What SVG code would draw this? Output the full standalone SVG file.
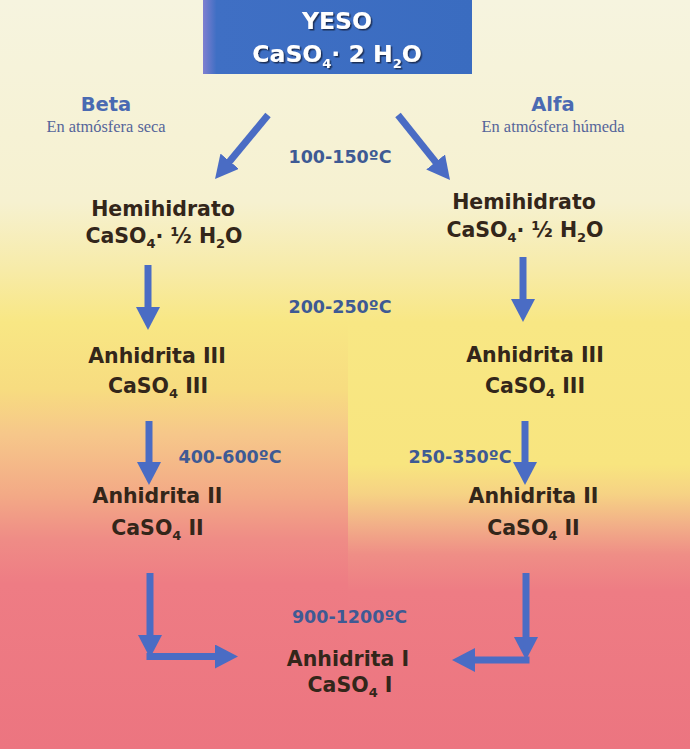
<svg xmlns="http://www.w3.org/2000/svg" width="690" height="749" viewBox="0 0 690 749">
<defs>
<linearGradient id="bgL" x1="0" y1="0" x2="0" y2="749" gradientUnits="userSpaceOnUse">
<stop offset="0" stop-color="#f6f4df"/>
<stop offset="0.27" stop-color="#f6f1d0"/>
<stop offset="0.36" stop-color="#f7eba8"/>
<stop offset="0.43" stop-color="#f8e784"/>
<stop offset="0.52" stop-color="#f7dc80"/>
<stop offset="0.58" stop-color="#f6c78a"/>
<stop offset="0.66" stop-color="#f3aa86"/>
<stop offset="0.72" stop-color="#ef8c86"/>
<stop offset="0.78" stop-color="#ee7c84"/>
<stop offset="1" stop-color="#ec7580"/>
</linearGradient>
<linearGradient id="bgR" x1="0" y1="0" x2="0" y2="749" gradientUnits="userSpaceOnUse">
<stop offset="0" stop-color="#f6f4df"/>
<stop offset="0.27" stop-color="#f6f1d0"/>
<stop offset="0.36" stop-color="#f7eba8"/>
<stop offset="0.43" stop-color="#f8e784"/>
<stop offset="0.62" stop-color="#f8e57f"/>
<stop offset="0.66" stop-color="#f6d284"/>
<stop offset="0.70" stop-color="#f2b088"/>
<stop offset="0.74" stop-color="#ef8e86"/>
<stop offset="0.79" stop-color="#ee7c84"/>
<stop offset="1" stop-color="#ec7580"/>
</linearGradient>
<linearGradient id="boxg" x1="0" y1="0" x2="1" y2="0">
<stop offset="0" stop-color="#7f7fd0"/>
<stop offset="0.05" stop-color="#3f6fc4"/>
<stop offset="1" stop-color="#3a6cc0"/>
</linearGradient>
<filter id="sh" x="-10%" y="-20%" width="120%" height="150%">
<feDropShadow dx="1.5" dy="1.5" stdDeviation="0.6" flood-color="#18284e" flood-opacity="0.9"/>
</filter>
<marker id="ah" viewBox="0 0 23 24" refX="11" refY="12" markerWidth="23" markerHeight="24" markerUnits="userSpaceOnUse" orient="auto">
<path d="M0,0 L23,12 L0,24 z" fill="#4a6cc4"/>
</marker>
<style>
.n{font-family:"DejaVu Sans","Liberation Sans",sans-serif;font-weight:bold;font-size:20.5px;fill:#33261a;text-anchor:middle}
.t{font-family:"DejaVu Sans","Liberation Sans",sans-serif;font-weight:bold;font-size:17.5px;fill:#3e5a94;text-anchor:middle}
.h{font-family:"DejaVu Sans","Liberation Sans",sans-serif;font-weight:bold;font-size:19.5px;fill:#4a6ab2;text-anchor:middle}
.s{font-family:"Liberation Serif",serif;font-size:16.4px;fill:#55659a;text-anchor:middle}
.y{font-family:"DejaVu Sans","Liberation Sans",sans-serif;font-weight:bold;font-size:23.5px;fill:#ffffff;text-anchor:middle}
.sub{font-size:13px}
.c line{stroke:#4a6cc4;stroke-width:7;fill:none;marker-end:url(#ah)}
.c .p{stroke:#4a6cc4;stroke-width:7;fill:none}
</style>
</defs>
<rect x="0" y="0" width="348" height="749" fill="url(#bgL)"/>
<rect x="348" y="0" width="342" height="749" fill="url(#bgR)"/>

<g id="yeso">
<rect x="203" y="0" width="269" height="74" fill="url(#boxg)"/>
<g filter="url(#sh)">
<text class="y" x="337" y="29">YESO</text>
<text class="y" x="337" y="62">CaSO<tspan class="sub" dy="6">4</tspan><tspan dy="-6">· 2 H</tspan><tspan class="sub" dy="6">2</tspan><tspan dy="-6">O</tspan></text>
</g>
</g>

<g id="beta-label">
<text class="h" x="106" y="111">Beta</text>
<text class="s" x="106" y="132">En atmósfera seca</text>
</g>
<g id="alfa-label">
<text class="h" x="553" y="111">Alfa</text>
<text class="s" x="553" y="132">En atmósfera húmeda</text>
</g>

<g id="hemi-beta">
<text class="n" x="163" y="216">Hemihidrato</text>
<text class="n" x="164" y="243">CaSO<tspan class="sub" dy="5">4</tspan><tspan dy="-5">· ½ H</tspan><tspan class="sub" dy="5">2</tspan><tspan dy="-5">O</tspan></text>
</g>
<g id="hemi-alfa">
<text class="n" x="524" y="209">Hemihidrato</text>
<text class="n" x="525" y="237">CaSO<tspan class="sub" dy="5">4</tspan><tspan dy="-5">· ½ H</tspan><tspan class="sub" dy="5">2</tspan><tspan dy="-5">O</tspan></text>
</g>

<g id="anh3-beta">
<text class="n" x="157" y="363">Anhidrita III</text>
<text class="n" x="158" y="393">CaSO<tspan class="sub" dy="5">4</tspan><tspan dy="-5"> III</tspan></text>
</g>
<g id="anh3-alfa">
<text class="n" x="535" y="362">Anhidrita III</text>
<text class="n" x="535" y="393">CaSO<tspan class="sub" dy="5">4</tspan><tspan dy="-5"> III</tspan></text>
</g>

<g id="anh2-beta">
<text class="n" x="157.5" y="503">Anhidrita II</text>
<text class="n" x="157.5" y="535">CaSO<tspan class="sub" dy="5">4</tspan><tspan dy="-5"> II</tspan></text>
</g>
<g id="anh2-alfa">
<text class="n" x="533.5" y="503">Anhidrita II</text>
<text class="n" x="533.5" y="535">CaSO<tspan class="sub" dy="5">4</tspan><tspan dy="-5"> II</tspan></text>
</g>

<g id="anh1">
<text class="n" x="348" y="666">Anhidrita I</text>
<text class="n" x="350" y="692">CaSO<tspan class="sub" dy="5">4</tspan><tspan dy="-5"> I</tspan></text>
</g>

<g id="connectors" class="c">
<line x1="268" y1="115" x2="222.7" y2="169.7"/>
<line x1="398" y1="115" x2="442.5" y2="170.6"/>
<line x1="148" y1="265" x2="148" y2="318"/>
<line x1="523" y1="257" x2="523" y2="310"/>
<line x1="149" y1="421" x2="149" y2="473"/>
<line x1="525" y1="421" x2="525" y2="473"/>
<line x1="150" y1="573" x2="150" y2="646"/>
<line x1="146.5" y1="656.5" x2="226" y2="656.5"/>
<line x1="526" y1="573" x2="526" y2="648"/>
<line x1="529.5" y1="660" x2="464" y2="660"/>
</g>

<g id="labels">
<text class="t" x="340" y="163">100-150ºC</text>
<text class="t" x="340" y="313">200-250ºC</text>
<text class="t" x="230" y="463">400-600ºC</text>
<text class="t" x="460" y="463">250-350ºC</text>
<text class="t" x="349.5" y="623">900-1200ºC</text>
</g>
</svg>
